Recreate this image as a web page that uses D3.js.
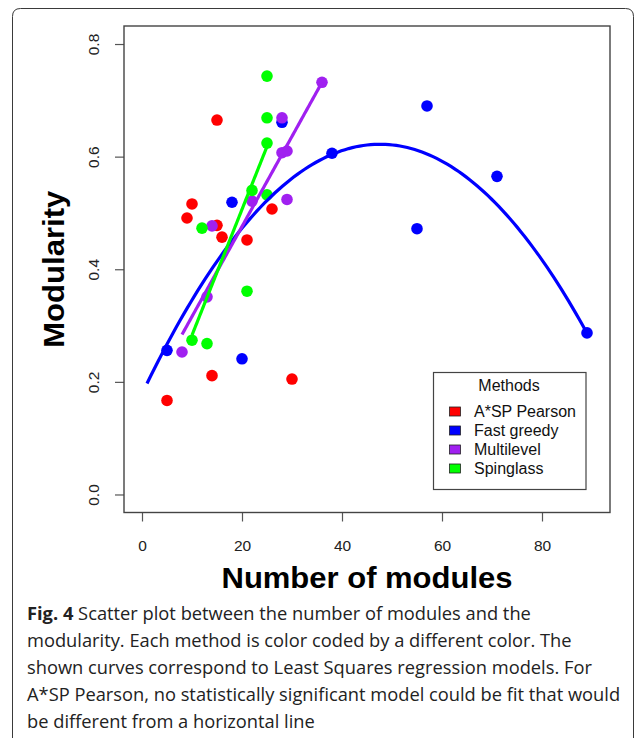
<!DOCTYPE html>
<html>
<head>
<meta charset="utf-8">
<script src="https://cdn.jsdelivr.net/npm/d3@7"></script>
<style>
  html, body { margin: 0; padding: 0; background: #fff; }
  svg { display: block; }
</style>
</head>
<body>
<svg id="fig" width="634" height="738"></svg>
<script>
// ---- data: number of modules vs modularity, per community-detection method ----
const methods = ["A*SP Pearson", "Fast greedy", "Multilevel", "Spinglass"];
const methodColors = ["#ff0000", "#0000ff", "#a020f0", "#00ff00"];

const pearsonModules = [15, 10, 9, 15, 16, 21, 26, 14, 30, 5];
const pearsonModularity = [0.665, 0.516, 0.491, 0.478, 0.457, 0.452, 0.507, 0.211, 0.205, 0.167];

const greedyModules = [28, 38, 18, 5, 20, 57, 71, 55, 89];
const greedyModularity = [0.661, 0.606, 0.519, 0.256, 0.241, 0.690, 0.565, 0.472, 0.287];

const multilevelModules = [36, 28, 28, 29, 22, 29, 14, 13, 8];
const multilevelModularity = [0.732, 0.669, 0.607, 0.610, 0.521, 0.524, 0.477, 0.351, 0.253];

const spinglassModules = [25, 25, 25, 22, 25, 12, 21, 10, 13];
const spinglassModularity = [0.743, 0.669, 0.624, 0.540, 0.532, 0.473, 0.361, 0.274, 0.268];

// least-squares models: polynomial coefficients [c0, c1, c2] and fitted x-range
const greedyFit = [0.1786, 0.01863, -0.0001957];
const greedyFitRange = [1, 89];
const multilevelFit = [0.156, 0.016, 0];
const multilevelFitRange = [8, 36];
const spinglassFit = [0.0597, 0.02233, 0];
const spinglassFitRange = [10, 25];

const xTicks = [0, 20, 40, 60, 80];
const yTicks = [0.0, 0.2, 0.4, 0.6, 0.8];

const captionLines = [
  [["Fig. 4", true], [" Scatter plot between the number of modules and the", false]],
  [["modularity. Each method is color coded by a different color. The", false]],
  [["shown curves correspond to Least Squares regression models. For", false]],
  [["A*SP Pearson, no statistically significant model could be fit that would", false]],
  [["be different from a horizontal line", false]]
];

// ---- layout ----
const svg = d3.select("#fig");
const plot = { left: 124, right: 610, top: 26, bottom: 512.5 };

const x = d3.scaleLinear().domain([-3.6, 93.6]).range([plot.left, plot.right]);
const y = d3.scaleLinear().domain([-0.032, 0.832]).range([plot.bottom, plot.top]);

// figure frame with rounded top corners
svg.append("path")
  .attr("d", "M12.5,738 V16.5 Q12.5,8.5 20.5,8.5 H625.5 Q633.5,8.5 633.5,16.5 V738")
  .attr("fill", "none").attr("stroke", "#3a3a3a").attr("stroke-width", 1);

// axes
const axisFont = "'Liberation Sans', Arial, Helvetica, sans-serif";

const gx = svg.append("g").attr("transform", `translate(0,${plot.bottom})`)
  .call(d3.axisBottom(x).tickValues(xTicks).tickSize(9).tickFormat(d3.format("d")));
gx.select(".domain").remove();
gx.selectAll("line").attr("stroke", "#555").attr("stroke-width", 1.2);
gx.selectAll("text").attr("y", 38).attr("dy", 0)
  .attr("font-family", axisFont).attr("font-size", 15.5).attr("fill", "#222");

const gy = svg.append("g").attr("transform", `translate(${plot.left},0)`)
  .call(d3.axisLeft(y).tickValues(yTicks).tickSize(9).tickFormat(d3.format(".1f")));
gy.select(".domain").remove();
gy.selectAll("line").attr("stroke", "#555").attr("stroke-width", 1.2);
gy.selectAll("text")
  .attr("x", 0).attr("y", -25).attr("dy", 0)
  .attr("text-anchor", "middle")
  .attr("transform", "rotate(-90)")
  .attr("font-family", axisFont).attr("font-size", 15.5).attr("fill", "#222");

gx.attr("font-family", null).attr("font-size", null);
gy.attr("font-family", null).attr("font-size", null);

// plot box
svg.append("rect")
  .attr("x", plot.left).attr("y", plot.top)
  .attr("width", plot.right - plot.left).attr("height", plot.bottom - plot.top)
  .attr("fill", "none").attr("stroke", "#444").attr("stroke-width", 1.4);

// axis titles
svg.append("text")
  .attr("x", (plot.left + plot.right) / 2).attr("y", 588)
  .attr("text-anchor", "middle")
  .attr("font-family", axisFont).attr("font-weight", "bold").attr("font-size", 30)
  .attr("textLength", 291).attr("lengthAdjust", "spacingAndGlyphs")
  .attr("fill", "#000")
  .text("Number of modules");

svg.append("text")
  .attr("transform", `translate(63.5,${(plot.top + plot.bottom) / 2}) rotate(-90)`)
  .attr("text-anchor", "middle")
  .attr("font-family", axisFont).attr("font-weight", "bold").attr("font-size", 30)
  .attr("textLength", 157).attr("lengthAdjust", "spacingAndGlyphs")
  .attr("fill", "#000")
  .text("Modularity");

// points, drawn method by method
const seriesPoints = [
  [pearsonModules, pearsonModularity],
  [greedyModules, greedyModularity],
  [multilevelModules, multilevelModularity],
  [spinglassModules, spinglassModularity]
];
const gPts = svg.append("g");
seriesPoints.forEach(([xs, ys], i) => {
  gPts.append("g").selectAll("circle")
    .data(xs.map((v, k) => [v, ys[k]]))
    .join("circle")
    .attr("cx", d => x(d[0]))
    .attr("cy", d => y(d[1]))
    .attr("r", 5.8)
    .attr("fill", methodColors[i]);
});

// regression curves
const fits = [
  [greedyFit, greedyFitRange, methodColors[1]],
  [multilevelFit, multilevelFitRange, methodColors[2]],
  [spinglassFit, spinglassFitRange, methodColors[3]]
];
const line = d3.line().x(d => x(d[0])).y(d => y(d[1]));
fits.forEach(([c, r, col]) => {
  const n = 120;
  const pts = d3.range(n + 1).map(k => {
    const xv = r[0] + (r[1] - r[0]) * k / n;
    return [xv, c[0] + c[1] * xv + c[2] * xv * xv];
  });
  svg.append("path").datum(pts)
    .attr("d", line)
    .attr("fill", "none").attr("stroke", col)
    .attr("stroke-width", 3.2).attr("stroke-linecap", "butt");
});

// legend
const lg = svg.append("g").attr("font-family", axisFont).attr("font-size", 16);
lg.append("rect").attr("x", 433.5).attr("y", 372.5).attr("width", 152.5).attr("height", 117)
  .attr("fill", "#fff").attr("stroke", "#444").attr("stroke-width", 1.2);
lg.append("text").attr("x", 509).attr("y", 391).attr("text-anchor", "middle")
  .attr("fill", "#111").text("Methods");
const legY = d3.scaleLinear().domain([0, 3]).range([411.5, 468.5]);
methods.forEach((m, i) => {
  lg.append("rect").attr("x", 449.5).attr("y", legY(i) - 4.5).attr("width", 11).attr("height", 9)
    .attr("fill", methodColors[i]).attr("stroke", "#222").attr("stroke-width", 0.8);
  lg.append("text").attr("x", 474).attr("y", legY(i) + 5.5).attr("fill", "#111").text(m);
});

// caption
const cap = svg.append("g").attr("font-family", "'Open Sans', 'Noto Sans', sans-serif")
  .attr("font-size", 18.3).attr("fill", "#222");
captionLines.forEach((parts, i) => {
  const t = cap.append("text").attr("x", 27).attr("y", 620 + i * 27);
  parts.forEach(([s, b]) => {
    t.append("tspan").attr("font-weight", b ? "bold" : "normal").text(s);
  });
});
</script>
</body>
</html>
